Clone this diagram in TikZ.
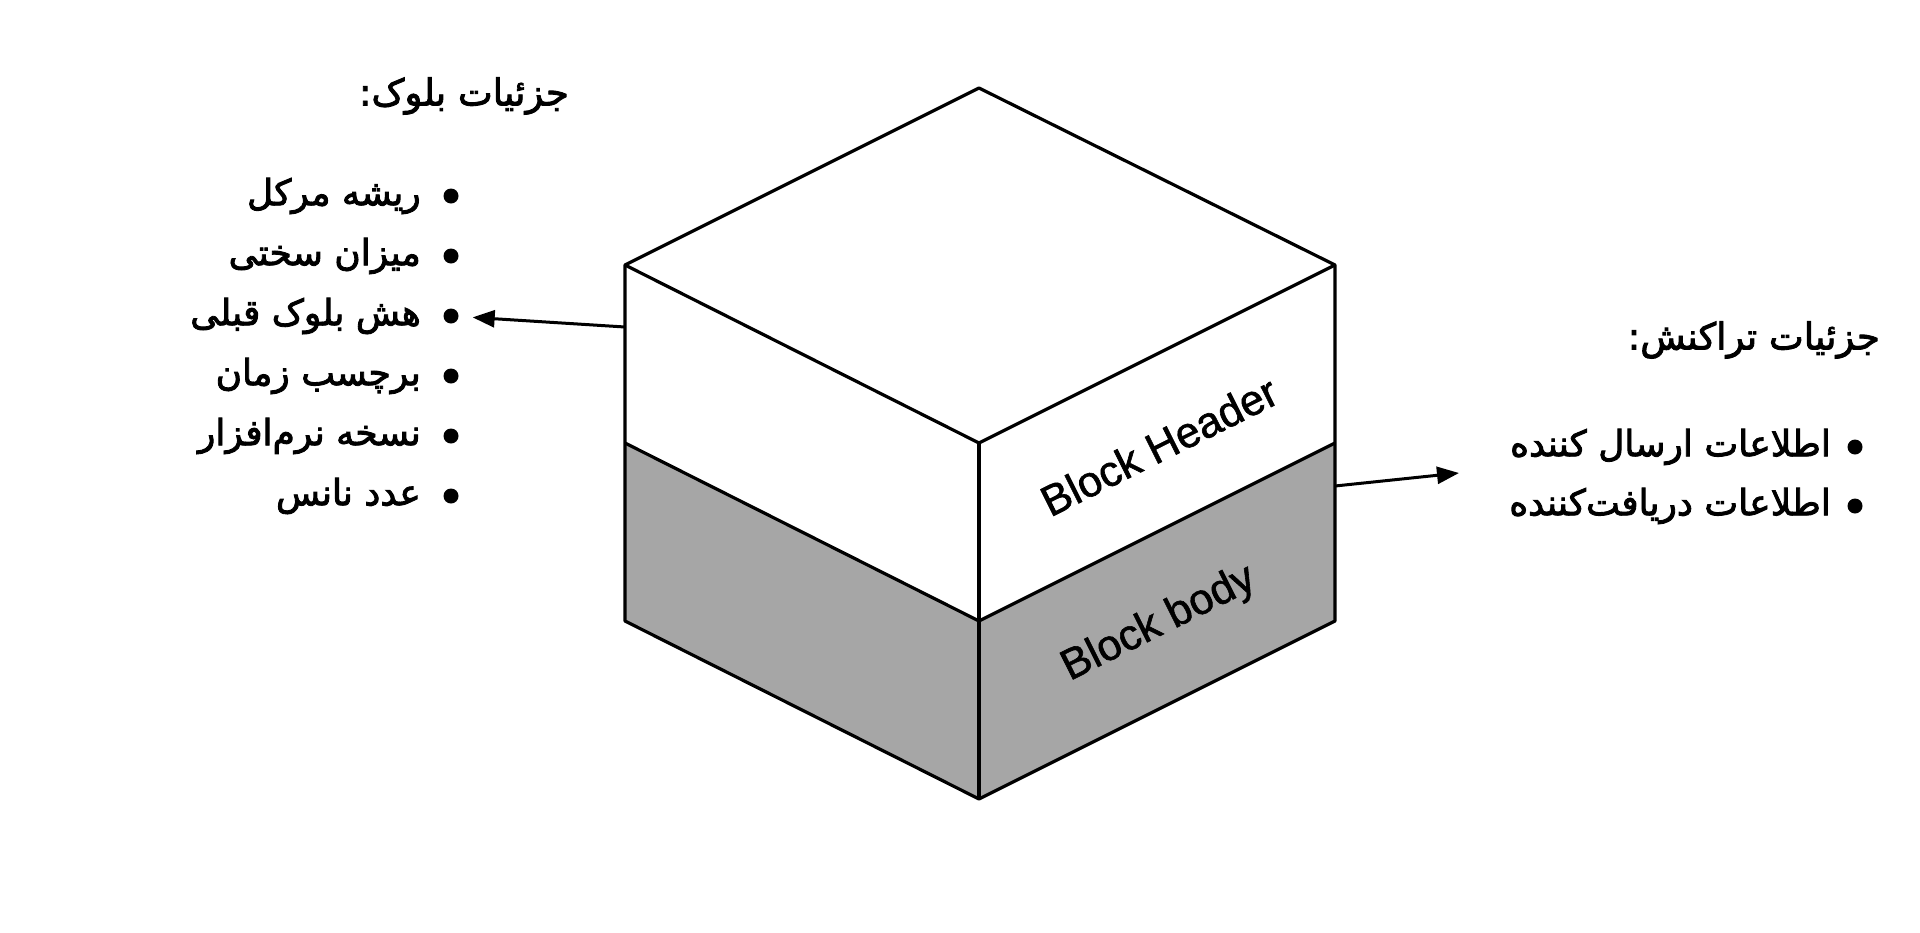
\documentclass[tikz,border=0pt]{standalone}
\usepackage{fontspec}
\setmainfont{Liberation Sans}
\newfontfamily\arabicfont[Script=Arabic,FakeBold=2.4]{DejaVu Sans}
\newfontfamily\latinlbl[FakeBold=1.4]{Liberation Sans}
\TeXXeTstate=1
\usetikzlibrary{arrows.meta}
\tikzset{
  edge/.style={line width=3.2pt, line join=round},
  bodyface/.style={fill=black!35},
  fa/.style={font=\arabicfont\fontsize{36}{42}\selectfont, inner sep=0pt, anchor=east},
  fatitle/.style={font=\arabicfont\fontsize{37}{44}\selectfont, inner sep=0pt, anchor=east},
  bul/.style={circle, fill=black, inner sep=0pt, minimum size=15pt},
  lbl/.style={font=\latinlbl\fontsize{43}{50}\selectfont, rotate=26.6, inner sep=0pt},
  arr/.style={line width=3pt, -{Triangle[length=22pt,width=17pt]}}
}
\begin{document}
\begin{tikzpicture}[x=1pt,y=-1pt]
\useasboundingbox (0,0) rectangle (1920,932);
% cube corners
\coordinate (T) at (979,88);
\coordinate (L) at (625,265);
\coordinate (R) at (1335,265);
\coordinate (F) at (979,443);
\coordinate (L2) at (625,443);
\coordinate (F2) at (979,621);
\coordinate (R2) at (1335,443);
\coordinate (L3) at (625,621);
\coordinate (F3) at (979,799);
\coordinate (R3) at (1335,621);
% faces
\fill[bodyface] (L2) -- (F2) -- (F3) -- (L3) -- cycle;
\fill[bodyface] (F2) -- (R2) -- (R3) -- (F3) -- cycle;
\draw[edge] (T) -- (R) -- (R3) -- (F3) -- (L3) -- (L) -- cycle;
\draw[edge] (L) -- (F) -- (R);
\draw[edge] (F) -- (F3);
\draw[edge] (L2) -- (F2) -- (R2);
% labels
\node[lbl] (hdr) at (1159,446) {Block Header};
\node[lbl] (body) at (1159,624) {Block body};
% left list
\node[fatitle] (ltitle) at (569,96) {\beginR جزئیات بلوک:\endR};
\foreach \i/\t [count=\k] in {
  196/ریشه مرکل,
  256/میزان سختی,
  316/هش بلوک قبلی,
  376/برچسب زمان,
  436/نسخه نرم‌افزار,
  496/عدد نانس}{
  \node[bul] (b\k) at (451,\i) {};
  \node[fa] (l\k) at (421,\i) {\beginR \t\endR};
}
% right list
\node[fatitle] (rtitle) at (1880,340) {\beginR جزئیات تراکنش:\endR};
\node[bul] (rb1) at (1855,447) {};
\node[fa] (r1) at (1831,447) {\beginR اطلاعات ارسال کننده\endR};
\node[bul] (rb2) at (1855,506) {};
\node[fa] (r2) at (1831,506) {\beginR اطلاعات دریافت‌کننده\endR};
% connectors
\coordinate (hl) at (625,327);
\coordinate (hr) at (1335,486);
\coordinate (rt) at (1459,473);
\draw[arr, shorten >=14pt] (hl) -- (b3);
\draw[arr] (hr) -- (rt);
\end{tikzpicture}
\end{document}
